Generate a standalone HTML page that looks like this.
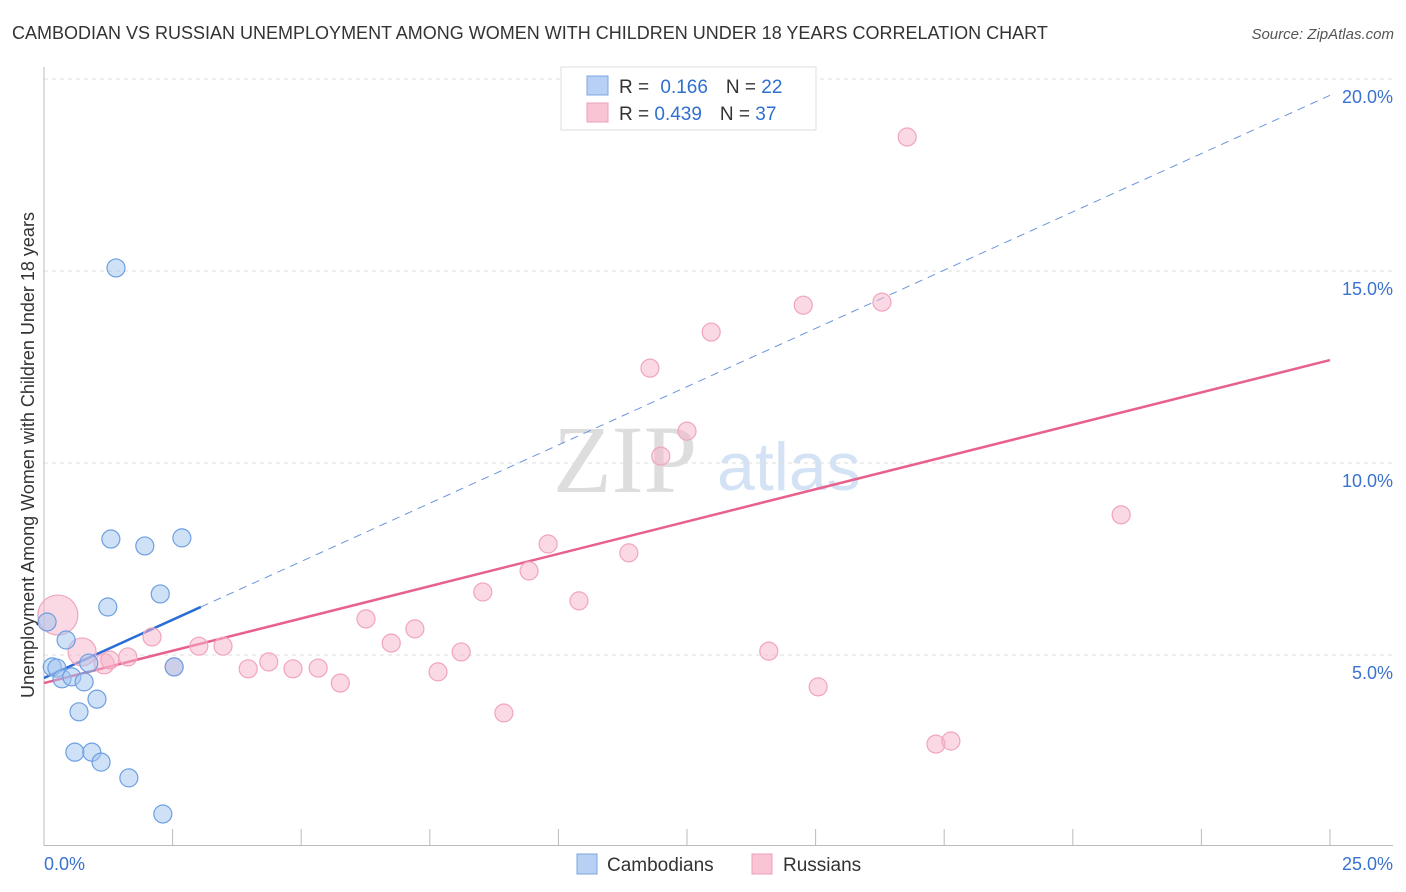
<!DOCTYPE html>
<html><head><meta charset="utf-8"><style>
body{margin:0;background:#fff;width:1406px;height:892px;overflow:hidden;font-family:"Liberation Sans",sans-serif}
svg{display:block}
</style></head><body>
<svg id="chart" width="1406" height="892">
<text x="12" y="39" font-size="18" fill="#333">CAMBODIAN VS RUSSIAN UNEMPLOYMENT AMONG WOMEN WITH CHILDREN UNDER 18 YEARS CORRELATION CHART</text>
<text x="1394" y="39" font-size="15" fill="#555" text-anchor="end" font-style="italic">Source: ZipAtlas.com</text>
<g>
<text x="553" y="492" font-size="96" font-family="Liberation Serif,serif" fill="#ddd">ZIP</text>
<text x="717" y="490" font-size="68" fill="#d4e2f5">atlas</text>
</g>
<g id="grid"></g>
<g id="axes"></g>
<g id="lines"></g>
<g id="points"></g>
<text transform="translate(34,455) rotate(-90)" font-size="18" fill="#333" text-anchor="middle">Unemployment Among Women with Children Under 18 years</text>
<g>
<rect x="561" y="67" width="255" height="63" fill="#fff" stroke="#ddd"/>
<rect x="587" y="76" width="21" height="19" fill="#b7d0f3" stroke="#7ea7e2"/>
<rect x="587" y="103" width="21" height="19" fill="#f9c5d5" stroke="#ee9fb8"/>
<text x="619" y="93" font-size="19" fill="#333">R = <tspan fill="#2f6fd0" dx="6">0.166</tspan><tspan fill="#333" dx="18">N = </tspan><tspan fill="#2f6fd0">22</tspan></text>
<text x="619" y="120" font-size="19" fill="#333">R = <tspan fill="#2f6fd0">0.439</tspan><tspan fill="#333" dx="18">N = </tspan><tspan fill="#2f6fd0">37</tspan></text>
</g>
<g>
<rect x="577" y="854" width="20" height="20" fill="#b7d0f3" stroke="#7ea7e2"/>
<text x="607" y="871" font-size="19" fill="#333">Cambodians</text>
<rect x="752" y="854" width="20" height="20" fill="#f9c5d5" stroke="#ee9fb8"/>
<text x="783" y="871" font-size="19" fill="#333">Russians</text>
</g>
</svg>
<script>
const camX=[1.40,1.30,1.96,2.68,2.26,1.24,0.43,0.06,0.16,0.25,0.35,0.54,0.78,0.87,2.53,1.03,0.68,0.60,0.93,1.11,1.65,2.31];
const camY=[15.08,8.02,7.84,8.05,6.59,6.25,5.39,5.86,4.69,4.66,4.38,4.43,4.30,4.79,4.69,3.85,3.52,2.47,2.47,2.21,1.80,0.86];
const rusX=[0.27,0.74,1.17,1.63,2.10,3.01,3.48,2.53,3.97,4.37,4.84,5.33,5.76,6.26,6.75,7.21,7.66,8.11,8.53,8.94,9.43,9.80,10.40,11.37,11.78,11.99,12.50,12.97,14.09,14.76,15.05,16.29,16.78,17.34,17.63,20.94,1.28];
const rusY=[6.04,5.08,4.77,4.95,5.47,5.23,5.23,4.69,4.64,4.82,4.64,4.66,4.27,5.94,5.31,5.68,4.56,5.08,6.64,3.49,7.19,7.89,6.41,7.66,12.47,10.18,10.83,13.41,5.10,14.11,4.17,14.19,18.49,2.68,2.76,8.65,4.87];
const rusR=[20,14,10,9,9,9,9,9,9,9,9,9,9,9,9,9,9,9,9,9,9,9,9,9,9,9,9,9,9,9,9,9,9,9,9,9,9];
const camTrend=[4.40,0.607]; // intercept, slope
const rusTrend=[4.27,0.3364];
const yTicks=[5,10,15,20];
const yTickLabels=["5.0%","10.0%","15.0%","20.0%"];
const xTickVals=[0,2.5,5,7.5,10,12.5,15,17.5,20,22.5,25];
const xLabels=["0.0%","25.0%"];
const NS="http://www.w3.org/2000/svg";
const sx=v=>44+v*51.44, sy=v=>847-v*38.4;
function mk(tag,attrs,parent){const e=document.createElementNS(NS,tag);for(const k in attrs)e.setAttribute(k,attrs[k]);document.getElementById(parent).appendChild(e);return e;}
yTicks.forEach((t,i)=>{
  const g=mk('line',{x1:44,x2:1393,y1:sy(t),y2:sy(t),stroke:'#ddd','stroke-dasharray':'4,4'},'grid');
  
  
  const l=mk('text',{x:1393,y:sy(t)+24,'font-size':18,fill:'#3a72d0','text-anchor':'end'},'grid');
  l.textContent=yTickLabels[i];
  
  
});
const ya=mk('line',{x1:44,x2:44,y1:67,y2:846,stroke:'#bbb'},'axes');


const xa=mk('line',{x1:44,x2:1393,y1:845.5,y2:845.5,stroke:'#bbb'},'axes');


xTickVals.forEach(t=>{
  const k=mk('line',{x1:sx(t),x2:sx(t),y1:829,y2:846,stroke:'#bbb'},'axes');
  
  
});
[[0,'start',44],[25,'end',1393]].forEach((a,i)=>{
  const t=mk('text',{x:a[2],y:870,'font-size':18,fill:'#3a72d0','text-anchor':a[1]},'axes');
  t.textContent=xLabels[i];
  
  
});
// trend lines
const rl=mk('line',{x1:sx(0),y1:sy(rusTrend[0]),x2:sx(25),y2:sy(rusTrend[0]+rusTrend[1]*25),stroke:'#e8608c','stroke-width':2.5},'lines');


const cl=mk('line',{x1:sx(0),y1:sy(camTrend[0]),x2:sx(3.05),y2:sy(camTrend[0]+camTrend[1]*3.05),stroke:'#2a6dd6','stroke-width':2.5},'lines');


const cd=mk('line',{x1:sx(3.05),y1:sy(camTrend[0]+camTrend[1]*3.05),x2:sx(25),y2:sy(camTrend[0]+camTrend[1]*25),stroke:'#6b95dc','stroke-width':1,'stroke-dasharray':'8,6'},'lines');


rusX.forEach((x,i)=>{
  const c=mk('circle',{cx:sx(x),cy:sy(rusY[i]),r:rusR[i],fill:'rgba(247,180,202,0.5)',stroke:'#f0a5bd','stroke-width':1.2},'points');
  
  
});
camX.forEach((x,i)=>{
  const c=mk('circle',{cx:sx(x),cy:sy(camY[i]),r:9,fill:'rgba(160,196,240,0.5)',stroke:'#6e9fe0','stroke-width':1.2},'points');
  
  
});
</script>
</body></html>
